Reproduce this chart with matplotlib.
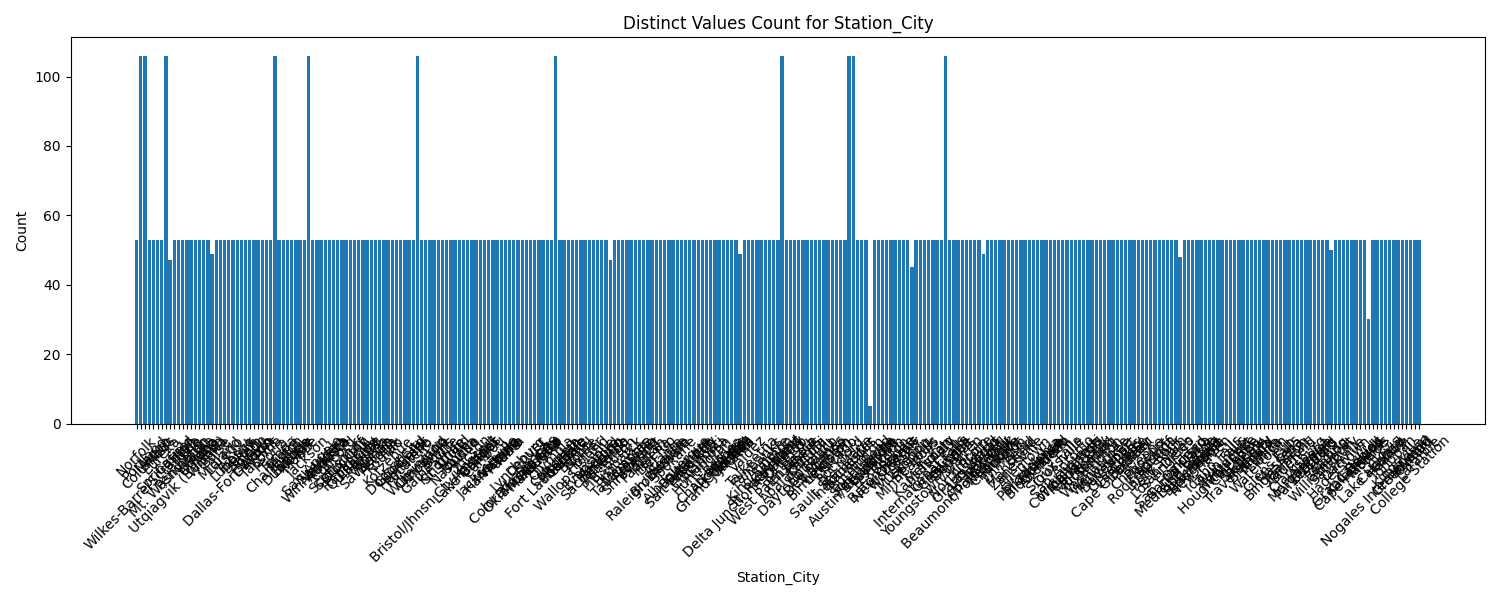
import matplotlib
matplotlib.use("Agg")

import matplotlib.pyplot as plt
import numpy as np

# Station cities in the order they appear on the x axis
cities = [
    "Norfolk", "Wilkes-Barre/Scranton", "Portland", "Columbus", "Macon",
    "Waco", "Eureka", "Springfield", "Mt. Washington", "Casper",
    "Utqiagvik (Barrow)", "Pendleton", "Tulsa", "Erie", "Yakima",
    "Omaha", "Reno", "Wichita", "Elko", "Boise",
    "Midland", "Laredo", "Dallas-Fort Worth", "Lubbock", "Fresno",
    "Duluth", "Salem", "Toledo", "Dayton", "Akron",
    "Tacoma", "Flint", "Peoria", "Charleston", "Tampa",
    "Miami", "Dubuque", "Billings", "Moline", "Mobile",
    "Ely", "Jackson", "San Angelo", "Winnemucca", "Sheridan",
    "Valdosta", "Augusta", "Concord", "Scottsbluff", "Sioux City",
    "Stockton", "Rapid City", "Quillayute", "Lansing", "Salinas",
    "Savannah", "Alpena", "Bishop", "Astoria", "Kodiak",
    "Kotzebue", "Hilo", "Dodge City", "Goodland", "Huntsville",
    "Pocatello", "Greer", "Wilmington", "Cleveland", "Knoxville",
    "Gainesville", "Bristol/Jhnsn Cty/Kngsprt", "Burns", "Kingman", "St. Cloud",
    "Lihue", "Nashville", "Topeka", "Austin", "Lake Charles",
    "Tucson", "Hartford", "Bangor", "Caribou", "Jacksonville",
    "Harrisburg", "Missoula", "Victoria", "Pueblo", "Yuma",
    "Colorado Springs", "Lynchburg", "Oklahoma City", "Denver", "Mason City",
    "Marquette", "Glasgow", "El Paso", "Fort Lauderdale", "Olympia",
    "Columbia", "Mcgrath", "Roanoke", "Buffalo", "Wallops Island",
    "Bethel", "Nome", "Homer", "Evansville", "Sacramento",
    "Medford", "Redding", "Asheville", "Pittsburgh", "Fargo",
    "Bismarck", "Tallahassee", "Memphis", "Shreveport", "Amarillo",
    "Abilene", "Paducah", "Raleigh/Durham", "Helena", "Del Rio",
    "Brownsville", "Atlanta", "Seattle", "Spokane", "Albuquerque",
    "Salt Lake City", "Baltimore", "Syracuse", "Houston", "Cincinnati",
    "Huntington", "Alamosa", "Chattanooga", "Grand Junction", "Anchorage",
    "Bettles", "Cold Bay", "Yakutat", "Juneau", "Sitka",
    "Delta Junction/Ft Greely", "Valdez", "Talkeetna", "Fairbanks", "King Salmon",
    "St. Paul Island", "Annette", "West Palm Beach", "Key West", "Albany",
    "Orlando", "Pensacola", "Apalachicola", "Daytona Beach", "Athens",
    "Kahului", "Honolulu", "Des Moines", "Birmingham", "Waterloo",
    "Lewiston", "Sault Ste. Marie", "Chicago", "Rockford", "Indianapolis",
    "Rochester", "Austin/Bergstrom", "Burlington", "South Bend", "Fort Wayne",
    "Concordia", "Louisville", "Lexington", "Baton Rouge", "New Orleans",
    "Boston", "Worcester", "Detroit", "Muskegon", "Minneapolis",
    "Hibbing", "St. Louis", "International Falls", "Kansas City", "Meridian",
    "Youngstown/Warren", "Tupelo", "Great Falls", "Greenville", "Kalispell",
    "Douglas", "Beaumont/Port Arthur", "North Platte", "Grand Island", "Lincoln",
    "Las Vegas", "Atlantic City", "Newark", "Roswell", "New York",
    "Charlotte", "Hickory", "Williston", "Minot", "Mansfield",
    "Zanesville", "Bend", "Allentown", "Philadelphia", "Providence",
    "Block Island", "Florence", "Aberdeen", "Huron", "Sioux Falls",
    "Crossville", "San Antonio", "Corpus Christi", "Wichita Falls", "Galveston",
    "Cedar City", "Montpelier", "Richmond", "Washington", "Sterling",
    "Wenatchee", "Milwaukee", "Davenport", "Cape Girardeau", "Green Bay",
    "La Crosse", "Elkins", "Beckley", "Lander", "Cheyenne",
    "Rock Springs", "Phoenix", "Flagstaff", "Little Rock", "Fort Smith",
    "Los Angeles", "San Diego", "San Francisco", "Medicine Lodge", "Santa Maria",
    "Oakland", "Long Beach", "Bakersfield", "Bridgeport", "New Haven",
    "Dover", "Rome", "Idaho Falls", "Houghton Lake", "Twin Falls",
    "Nantucket", "Hyannis", "Chicopee", "Traverse City", "Saginaw",
    "Pellston", "Brainerd", "Ithaca", "Watertown", "Elmira",
    "Utica", "Glens Falls", "Binghamton", "Massena", "Islip",
    "Fairmont", "Bluefield", "Clarksburg", "Morgantown", "Parkersburg",
    "Altoona", "Bradford", "Dubois", "Williamsport", "Reading",
    "Marion", "Salisbury", "Hagerstown", "Danville", "Grand Rapids",
    "Cape Hatteras", "Kalamazoo", "Caldwell", "Oakley", "Monroe",
    "Lake Havasu", "Nogales International", "Carlsbad", "Clovis", "Gallup",
    "Tonopah", "Kingsville", "Greenwood", "Decatur", "College Station",
    "Oxnard", "Laramie",
]

# Number of rows per city
counts = [
    53, 106, 106, 53, 53, 53, 53, 106, 47, 53, 53, 53, 53, 53, 53, 53, 53, 53, 49, 53,
    53, 53, 53, 53, 53, 53, 53, 53, 53, 53, 53, 53, 53, 106, 53, 53, 53, 53, 53, 53,
    53, 106, 53, 53, 53, 53, 53, 53, 53, 53, 53, 53, 53, 53, 53, 53, 53, 53, 53, 53,
    53, 53, 53, 53, 53, 53, 53, 106, 53, 53, 53, 53, 53, 53, 53, 53, 53, 53, 53, 53,
    53, 53, 53, 53, 53, 53, 53, 53, 53, 53, 53, 53, 53, 53, 53, 53, 53, 53, 53, 53,
    106, 53, 53, 53, 53, 53, 53, 53, 53, 53, 53, 53, 53, 47, 53, 53, 53, 53, 53, 53,
    53, 53, 53, 53, 53, 53, 53, 53, 53, 53, 53, 53, 53, 53, 53, 53, 53, 53, 53, 53,
    53, 53, 53, 53, 49, 53, 53, 53, 53, 53, 53, 53, 53, 53, 106, 53, 53, 53, 53, 53,
    53, 53, 53, 53, 53, 53, 53, 53, 53, 53, 106, 106, 53, 53, 53, 5, 53, 53, 53, 53,
    53, 53, 53, 53, 53, 45, 53, 53, 53, 53, 53, 53, 53, 106, 53, 53, 53, 53, 53, 53,
    53, 53, 49, 53, 53, 53, 53, 53, 53, 53, 53, 53, 53, 53, 53, 53, 53, 53, 53, 53,
    53, 53, 53, 53, 53, 53, 53, 53, 53, 53, 53, 53, 53, 53, 53, 53, 53, 53, 53, 53,
    53, 53, 53, 53, 53, 53, 53, 53, 53, 48, 53, 53, 53, 53, 53, 53, 53, 53, 53, 53,
    53, 53, 53, 53, 53, 53, 53, 53, 53, 53, 53, 53, 53, 53, 53, 53, 53, 53, 53, 53,
    53, 53, 53, 53, 53, 50, 53, 53, 53, 53, 53, 53, 53, 53, 30, 53, 53, 53, 53, 53,
    53, 53, 53, 53, 53, 53, 53,
]

assert len(cities) == len(counts), (len(cities), len(counts))

fig, ax = plt.subplots(figsize=(15, 6), dpi=100)

x = np.arange(len(cities))
ax.bar(x, counts)
ax.set_xticks(x)
ax.set_xticklabels(cities, rotation=45)

ax.set_xlabel("Station_City")
ax.set_ylabel("Count")
ax.set_title("Distinct Values Count for Station_City")

fig.tight_layout()
fig.savefig("out.png")
plt.close(fig)
